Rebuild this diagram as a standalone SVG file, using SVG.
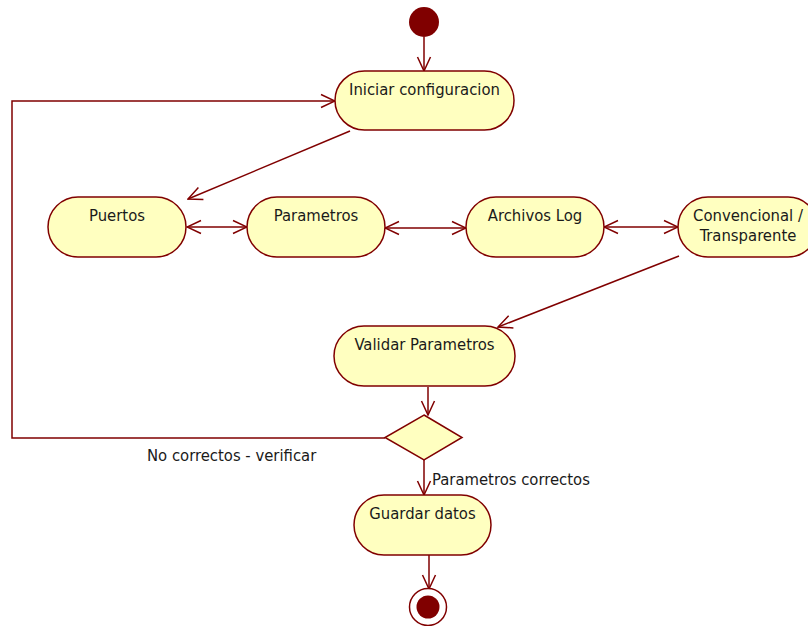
<svg xmlns="http://www.w3.org/2000/svg" width="808" height="626" viewBox="0 0 808 626">
<defs>
<style>
.node{fill:#ffffc0;stroke:#800000;stroke-width:1.5}
.lbl{font-family:"DejaVu Sans Condensed","DejaVu Sans",sans-serif;font-stretch:condensed;font-size:16.5px;fill:#1a1a1a;text-anchor:middle}
.elbl{font-family:"DejaVu Sans Condensed","DejaVu Sans",sans-serif;font-stretch:condensed;font-size:16.5px;fill:#1a1a1a}
.edge{fill:none;stroke:#800000;stroke-width:1.5}
</style>
<marker id="arr" viewBox="0 0 16 16" refX="15" refY="8" markerWidth="16" markerHeight="16" markerUnits="userSpaceOnUse" orient="auto-start-reverse">
<path d="M1,1.5 L15,8 L1,14.5" fill="none" stroke="#800000" stroke-width="1.5"/>
</marker>
</defs>
<rect width="808" height="626" fill="#ffffff"/>
<g id="connectors">
<line class="edge" x1="424" y1="37" x2="424" y2="71" marker-end="url(#arr)"/>
<line class="edge" x1="350" y1="131" x2="188" y2="199" marker-end="url(#arr)"/>
<line class="edge" x1="187" y1="227" x2="247" y2="227" marker-start="url(#arr)" marker-end="url(#arr)"/>
<line class="edge" x1="385" y1="228" x2="466" y2="228" marker-start="url(#arr)" marker-end="url(#arr)"/>
<line class="edge" x1="604" y1="227" x2="678" y2="227" marker-start="url(#arr)" marker-end="url(#arr)"/>
<line class="edge" x1="679" y1="256" x2="498" y2="327" marker-end="url(#arr)"/>
<line class="edge" x1="428" y1="387" x2="428" y2="415" marker-end="url(#arr)"/>
<line class="edge" x1="424" y1="460" x2="424" y2="495" marker-end="url(#arr)"/>
<polyline class="edge" points="385,438 12,438 12,101 335,101" marker-end="url(#arr)"/>
<line class="edge" x1="429" y1="555" x2="429" y2="589" marker-end="url(#arr)"/>
<text class="elbl" x="147" y="461">No correctos - verificar</text>
<text class="elbl" x="432" y="485">Parametros correctos</text>
</g>
<g id="start"><circle cx="424" cy="22" r="15" fill="#800000"/></g>
<g id="iniciar"><rect class="node" x="335" y="71" width="179" height="59" rx="29.5"/><text class="lbl" x="424.5" y="95">Iniciar configuracion</text></g>
<g id="puertos"><rect class="node" x="48" y="197" width="138" height="60" rx="30"/><text class="lbl" x="117" y="221">Puertos</text></g>
<g id="parametros"><rect class="node" x="247" y="197" width="138" height="60" rx="30"/><text class="lbl" x="316" y="221">Parametros</text></g>
<g id="archivos"><rect class="node" x="466" y="197" width="138" height="60" rx="30"/><text class="lbl" x="535" y="221">Archivos Log</text></g>
<g id="convencional"><rect class="node" x="678" y="197" width="140" height="60" rx="30"/><text class="lbl" x="748" y="221">Convencional /</text><text class="lbl" x="748" y="241">Transparente</text></g>
<g id="validar"><rect class="node" x="334" y="326" width="181" height="60" rx="30"/><text class="lbl" x="424.5" y="350">Validar Parametros</text></g>
<g id="decision"><polygon class="node" points="424,415 462,437.5 424,460 385,437.5"/></g>
<g id="guardar"><rect class="node" x="354" y="495" width="137" height="60" rx="30"/><text class="lbl" x="422.5" y="519">Guardar datos</text></g>
<g id="end"><circle cx="428" cy="607" r="18.5" fill="#ffffff" stroke="#800000" stroke-width="1.5"/><circle cx="428" cy="607" r="11.5" fill="#800000"/></g>
</svg>
